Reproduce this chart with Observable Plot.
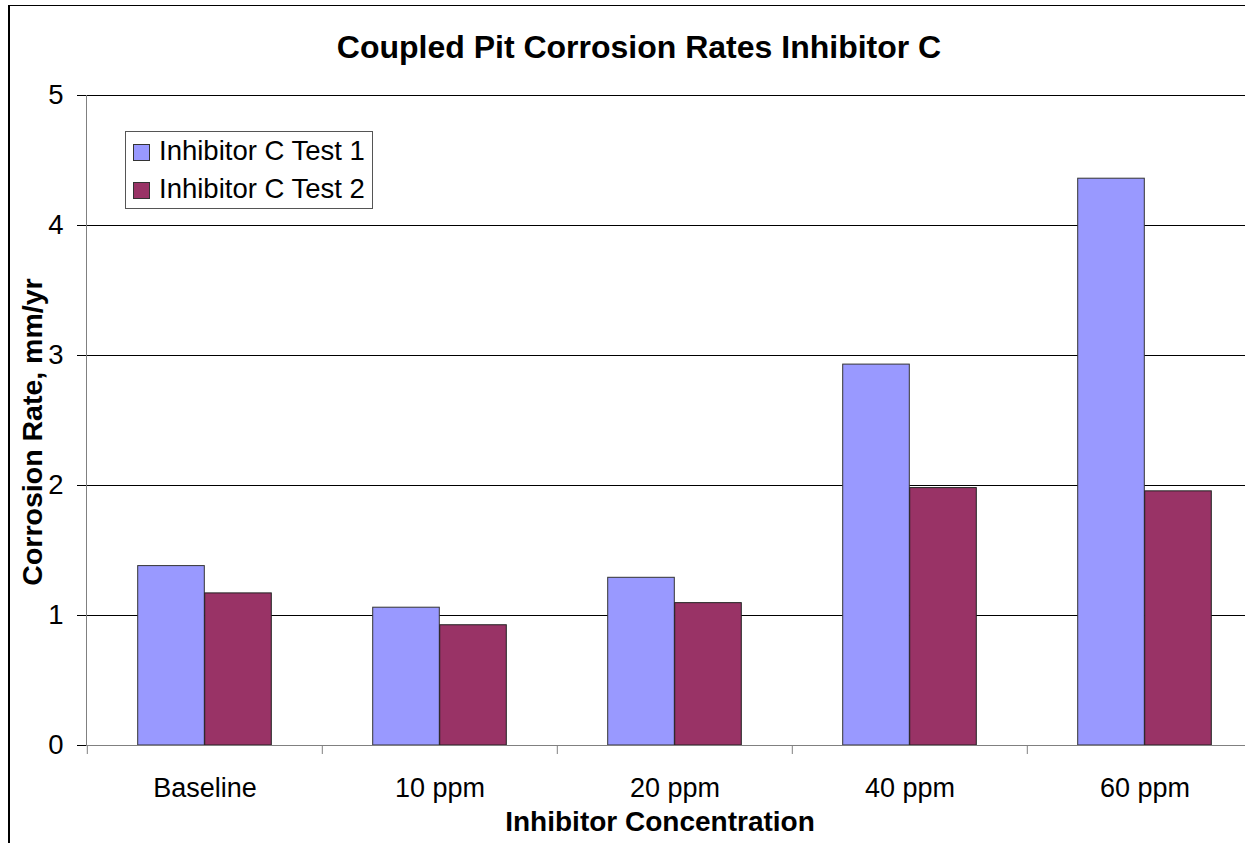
<!DOCTYPE html>
<html>
<head>
<meta charset="utf-8">
<script src="https://cdn.jsdelivr.net/npm/d3@7"></script>
<script src="https://cdn.jsdelivr.net/npm/@observablehq/plot@0.6"></script>
<style>
  html, body { margin: 0; padding: 0; background: #fff; overflow: hidden; }
  #wrap { position: relative; width: 1245px; height: 843px; overflow: hidden; background: #fff;
          font-family: "Liberation Sans", Arial, sans-serif; color: #000; }
  #wrap svg { max-width: none !important; position: absolute; left: 0; top: 0; }
  .abs { position: absolute; line-height: 1; white-space: nowrap; }
  #border { position: absolute; left: 8px; top: 5px; width: 1300px; height: 900px;
            border-left: 2px solid #000; border-top: 1px solid #000; box-sizing: border-box; }
  #title { left: 639px; top: 31px; transform: translateX(-50%); font-size: 32px; font-weight: bold; }
  #xlabel { left: 660px; top: 808px; transform: translateX(-50%); font-size: 28px; font-weight: bold; }
  #ylabel { left: 32px; top: 432px; transform: translate(-50%, -50%) rotate(-90deg); font-size: 28.5px; font-weight: bold; }
  #legend { position: absolute; left: 125px; top: 131px; width: 248px; height: 78px; box-sizing: border-box;
            border: 1px solid #555; background: #fff; }
  .sw { position: absolute; width: 17px; height: 17px; box-sizing: border-box; border: 1px solid #333; }
  .lt { font-size: 27.5px; }
</style>
</head>
<body>
<div id="wrap"></div>
<script>
// ---- data ----
const categories = ["Baseline", "10 ppm", "20 ppm", "40 ppm", "60 ppm"];
const test1 = [1.38, 1.06, 1.29, 2.93, 4.36];
const test2 = [1.17, 0.925, 1.095, 1.98, 1.955];
const seriesNames = ["Inhibitor C Test 1", "Inhibitor C Test 2"];
const seriesColors = ["#9999FF", "#993366"];
const yTicks = [0, 1, 2, 3, 4, 5];
const gridValues = [1, 2, 3, 4, 5];
const titleText = "Coupled Pit Corrosion Rates Inhibitor C";
const xTitle = "Inhibitor Concentration";
const yTitle = "Corrosion Rate, mm/yr";

const rows1 = categories.map((c, i) => ({category: c, value: test1[i]}));
const rows2 = categories.map((c, i) => ({category: c, value: test2[i]}));

// ---- layout ----
const W = 1280, H = 843, mL = 86, mR = 17, mT = 95, mB = 98;
const step = (W - mL - mR) / categories.length;
const barW = 67;
const outer = (step - 2 * barW) / 2;
const font = "'Liberation Sans', Arial, sans-serif";

const chart = Plot.plot({
  width: W, height: H,
  marginLeft: mL, marginRight: mR, marginTop: mT, marginBottom: mB,
  style: {fontFamily: font, background: "transparent", color: "#000", overflow: "visible"},
  x: {domain: categories, padding: 0},
  y: {domain: [0, 5]},
  marks: [
    Plot.ruleY(gridValues, {stroke: "#000", strokeWidth: 1}),
    Plot.barY(rows1, {x: "category", y: "value", fill: seriesColors[0], stroke: "#333", strokeWidth: 1,
      insetLeft: outer, insetRight: step - outer - barW}),
    Plot.barY(rows2, {x: "category", y: "value", fill: seriesColors[1], stroke: "#222", strokeWidth: 1,
      insetLeft: outer + barW, insetRight: outer}),
    Plot.ruleY([0], {stroke: "#808080", strokeWidth: 1}),
    Plot.frame({anchor: "left", stroke: "#808080"}),
    Plot.axisY({ticks: yTicks, tickSize: 9, tickPadding: 14, fontSize: 27.5, label: null,
      tickFormat: d3.format("d"), stroke: "#000"}),
    Plot.axisX({tickSize: 0, tickPadding: 32, fontSize: 27, label: null}),
    Plot.axisX({tickSize: 9, tickFormat: () => "", dx: -step / 2, stroke: "#808080", label: null})
  ]
});

const wrap = document.getElementById("wrap");
wrap.appendChild(chart);
chart.style.maxWidth = "none";

function addDiv(id, cls, text) {
  const d = document.createElement("div");
  if (id) d.id = id;
  if (cls) d.className = cls;
  if (text != null) d.textContent = text;
  wrap.appendChild(d);
  return d;
}
addDiv("border", null, null);
addDiv("title", "abs", titleText);
addDiv("xlabel", "abs", xTitle);
addDiv("ylabel", "abs", yTitle);

const legend = addDiv("legend", null, null);
const swTops = [144, 182];
const textTops = [137, 175];
seriesNames.forEach((name, i) => {
  const sw = document.createElement("div");
  sw.className = "sw";
  sw.style.left = (133 - 126) + "px";
  sw.style.top = (swTops[i] - 132) + "px";
  sw.style.background = seriesColors[i];
  legend.appendChild(sw);
  const t = document.createElement("div");
  t.className = "abs lt";
  t.style.left = (159 - 126) + "px";
  t.style.top = (textTops[i] - 132) + "px";
  t.textContent = name;
  legend.appendChild(t);
});
</script>
</body>
</html>
